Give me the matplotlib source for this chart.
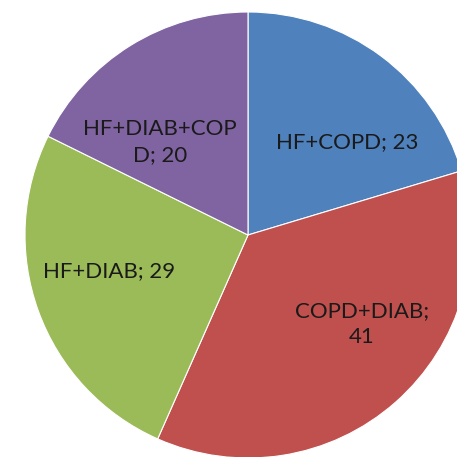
import matplotlib
matplotlib.use("Agg")
import matplotlib.pyplot as plt

categories = ["HF+COPD", "COPD+DIAB", "HF+DIAB", "HF+DIAB+COP\nD"]
values = [23, 41, 29, 20]
colors = ["#4F81BD", "#C0504D", "#9BBB59", "#8064A2"]
# where Excel put the data labels (pie radius = 1)
label_pos = [(0.444, 0.417), (0.511, -0.399), (-0.623, -0.161), (-0.395, 0.417)]

plt.rcParams['font.family'] = ['Lato', 'DejaVu Sans']

fig = plt.figure(figsize=(4.57, 4.57), dpi=100)
ax = fig.add_axes([0, 0, 1, 1])

labels = []
for cat, val in zip(categories, values):
    if cat.startswith("COPD+DIAB"):
        labels.append(f"{cat};\n{val}")
    else:
        labels.append(f"{cat}; {val}")

wedges, texts = ax.pie(values, labels=labels, colors=colors, startangle=90,
                       counterclock=False, radius=1, labeldistance=0.5,
                       wedgeprops=dict(edgecolor="white", linewidth=0.8),
                       textprops=dict(fontsize=16, color="#1a1a1a"))

for t, (x, y) in zip(texts, label_pos):
    t.set_position((x, y))
    t.set_ha("center")
    t.set_va("center")
    t.set_multialignment("center")
    t.set_linespacing(1.4)

ax.set_xlim(-248 / 223, 209 / 223)
ax.set_ylim(-222 / 223, 235 / 223)
ax.set_aspect("auto")
ax.axis("off")

fig.savefig("out.png", dpi=100)
